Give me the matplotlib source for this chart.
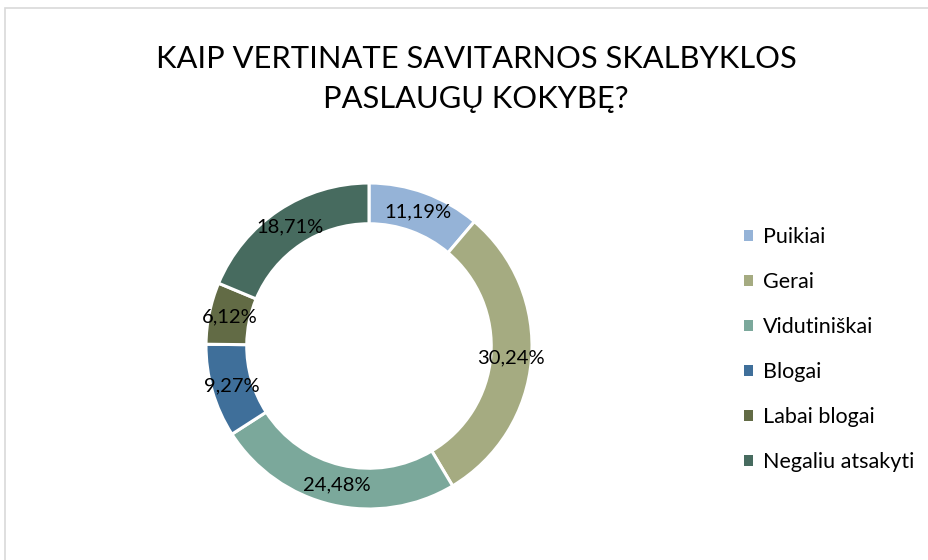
import numpy as np
import matplotlib
matplotlib.use("Agg")
import matplotlib.pyplot as plt
from matplotlib.patches import Rectangle, Patch

categories = ["Puikiai", "Gerai", "Vidutiniškai", "Blogai", "Labai blogai", "Negaliu atsakyti"]
values = [11.19, 30.24, 24.48, 9.27, 6.12, 18.71]
colors = ["#95b3d7", "#a5ab81", "#7ba89b", "#3f6f9a", "#626b45", "#476b5f"]

title = "KAIP VERTINATE SAVITARNOS SKALBYKLOS\nPASLAUGŲ KOKYBĘ?"

plt.rcParams['font.family'] = ['Lato', 'DejaVu Sans']

W, H = 929, 560
fig = plt.figure(figsize=(W / 100, H / 100), dpi=100)

# light chart-area border
fig.patches.append(Rectangle((5 / W, -0.1), 1.0, (H - 8) / H + 0.1,
                             transform=fig.transFigure, fill=False,
                             edgecolor="#d9d9d9", linewidth=1.2))

cx, cy, r = 369, 346, 163
ax = fig.add_axes([(cx - r) / W, (H - cy - r) / H, 2 * r / W, 2 * r / H])
width = 0.25
wedges, _ = ax.pie(values, colors=colors, startangle=90, counterclock=False,
                   radius=1.0, wedgeprops=dict(width=width, edgecolor="white", linewidth=2.2))
ax.set_xlim(-1, 1)
ax.set_ylim(-1, 1)
ax.axis('off')

rl = 1 - width / 2
for w, v in zip(wedges, values):
    ang = np.deg2rad((w.theta1 + w.theta2) / 2)
    ax.text(rl * np.cos(ang), rl * np.sin(ang), f"{v:.2f}".replace('.', ',') + "%",
            ha="center", va="center", fontsize=14.5, color="#000000")

fig.text(476 / W, 1 - 79 / H, title, ha="center", va="center", fontsize=22.2,
         linespacing=1.55, color="#000000")

handles = [Patch(facecolor=c, edgecolor="none") for c in colors]
fig.legend(handles, categories, loc="upper left", bbox_to_anchor=(725 / W, 1 - 208 / H),
           frameon=False, fontsize=15.5, handlelength=0.4, handleheight=0.4,
           handletextpad=0.45, labelspacing=1.16)

fig.savefig("out.png", dpi=100)
